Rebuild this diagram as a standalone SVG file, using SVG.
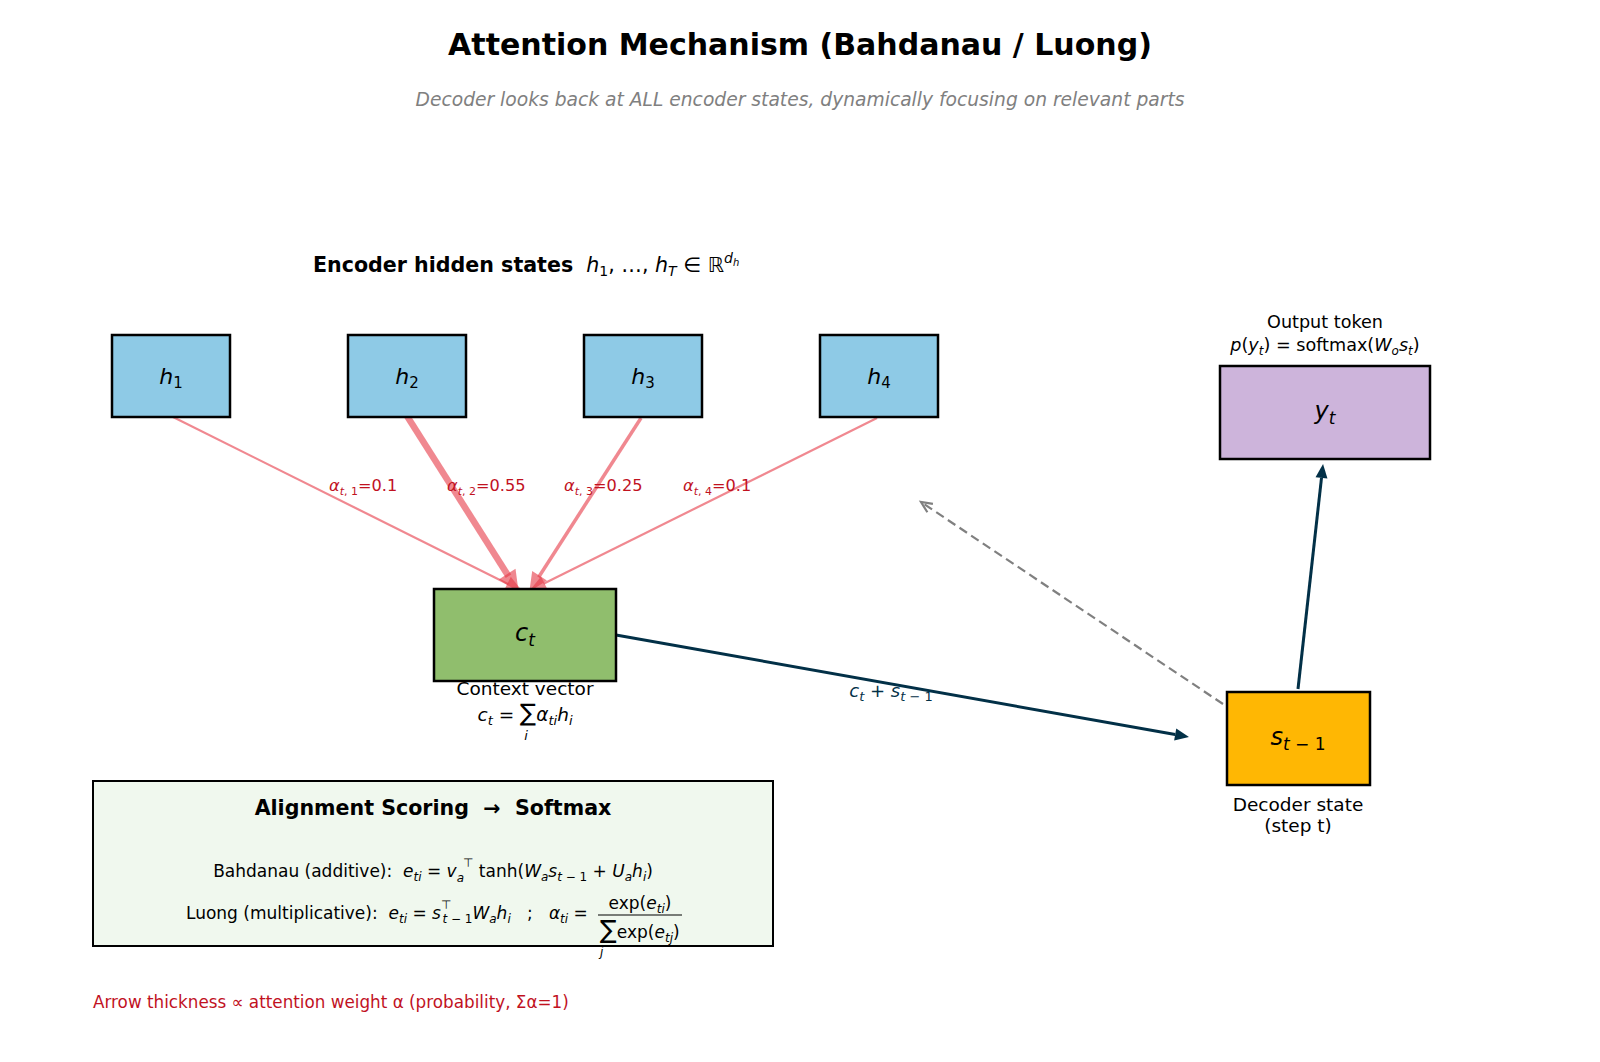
<svg xmlns="http://www.w3.org/2000/svg" width="1600" height="1062" viewBox="0 0 1600 1062" xml:space="preserve">
  <style>
    text { font-family: "DejaVu Sans", "Liberation Sans", sans-serif; fill: #000; white-space: pre; }
    .title { font-size: 30px; font-weight: bold; }
    .subtitle { font-size: 18.7px; font-style: italic; fill: #808080; }
    .bold { font-weight: bold; }
    .m { font-style: italic; }
    .node { stroke: #000; stroke-width: 2.5; }
    .enc { fill: #8ecae6; }
    .ctx { fill: #90be6d; }
    .out { fill: #cdb4db; }
    .dec { fill: #ffb703; }
    .lbl { font-size: 18.5px; }
    .alpha { font-size: 16.2px; fill: #c1121f; }
    .note { font-size: 16.8px; fill: #c1121f; }
    .navyt { fill: #023047; }
    .att { stroke: #e63946; stroke-opacity: 0.6; fill: none; }
    .navy { stroke: #023047; stroke-width: 3; fill: none; }
    .dash { stroke: #808080; stroke-width: 2.2; fill: none; stroke-dasharray: 9 5; }
  </style>
  <defs>
    <marker id="headAttThin" markerUnits="userSpaceOnUse" markerWidth="20" markerHeight="20" refX="0" refY="6" orient="auto" overflow="visible">
      <g opacity="0.6"><path d="M0,0 L13,6 L0,12 Z" fill="#e63946" stroke="#e63946" stroke-width="2.2"/></g>
    </marker>
    <marker id="headAttMid" markerUnits="userSpaceOnUse" markerWidth="20" markerHeight="20" refX="0" refY="6" orient="auto" overflow="visible">
      <g opacity="0.6"><path d="M0,0 L13,6 L0,12 Z" fill="#e63946" stroke="#e63946" stroke-width="3.5"/></g>
    </marker>
    <marker id="headAttThick" markerUnits="userSpaceOnUse" markerWidth="24" markerHeight="24" refX="0" refY="6" orient="auto" overflow="visible">
      <g opacity="0.6"><path d="M0,0 L13,6 L0,12 Z" fill="#e63946" stroke="#e63946" stroke-width="5"/></g>
    </marker>
    <marker id="headNavy" markerUnits="userSpaceOnUse" markerWidth="16" markerHeight="14" refX="0" refY="6" orient="auto" overflow="visible">
      <path d="M0,0 L14,6 L0,12 Z" fill="#023047"/>
    </marker>
    <marker id="headGrey" markerUnits="userSpaceOnUse" markerWidth="14" markerHeight="14" refX="11" refY="5" orient="auto" overflow="visible">
      <path d="M0,0 L11,5 L0,10" fill="none" stroke="#808080" stroke-width="2.2"/>
    </marker>
  </defs>

  <rect width="1600" height="1062" fill="#ffffff"/>

  <!-- headings -->
  <text class="title" x="800" y="55" text-anchor="middle">Attention Mechanism (Bahdanau / Luong)</text>
  <text class="subtitle" x="800" y="106" text-anchor="middle">Decoder looks back at ALL encoder states, dynamically focusing on relevant parts</text>
  <text x="313" y="272" font-size="20.6"><tspan class="bold">Encoder hidden states</tspan><tspan>  </tspan><tspan class="m">h</tspan><tspan font-size="14" dy="4">1</tspan><tspan dy="-4">, …, </tspan><tspan class="m">h</tspan><tspan font-size="14" dy="4" class="m">T</tspan><tspan dy="-4"> ∈ ℝ</tspan><tspan font-size="14" dy="-9" class="m">d</tspan><tspan font-size="10" dy="3" class="m">h</tspan></text>

  <!-- connectors -->
  <g id="connectors">
    <line class="att" stroke-width="2.2" x1="171" y1="416" x2="508.4" y2="584.2" marker-end="url(#headAttThin)"/>
    <line class="att" stroke-width="6.5" x1="407" y1="416" x2="508.5" y2="576.2" marker-end="url(#headAttThick)"/>
    <line class="att" stroke-width="3.5" x1="641" y1="418" x2="538.6" y2="577.2" marker-end="url(#headAttMid)"/>
    <line class="att" stroke-width="2.2" x1="877" y1="418" x2="543.5" y2="583.8" marker-end="url(#headAttThin)"/>

    <line class="navy" x1="616" y1="635" x2="1175.2" y2="734.5" marker-end="url(#headNavy)"/>
    <line class="navy" x1="1298" y1="689" x2="1321.5" y2="477.9" marker-end="url(#headNavy)"/>
    <line class="dash" x1="1223" y1="704" x2="921" y2="502" marker-end="url(#headGrey)"/>

    <text class="alpha" x="329" y="491"><tspan class="m">α</tspan><tspan font-size="11" dy="4"><tspan class="m">t</tspan>, 1</tspan><tspan dy="-4">=0.1</tspan></text>
    <text class="alpha" x="447" y="491"><tspan class="m">α</tspan><tspan font-size="11" dy="4"><tspan class="m">t</tspan>, 2</tspan><tspan dy="-4">=0.55</tspan></text>
    <text class="alpha" x="564" y="491"><tspan class="m">α</tspan><tspan font-size="11" dy="4"><tspan class="m">t</tspan>, 3</tspan><tspan dy="-4">=0.25</tspan></text>
    <text class="alpha" x="683" y="491"><tspan class="m">α</tspan><tspan font-size="11" dy="4"><tspan class="m">t</tspan>, 4</tspan><tspan dy="-4">=0.1</tspan></text>

    <text class="navyt" x="891" y="697" font-size="18" text-anchor="middle"><tspan class="m navyt">c</tspan><tspan font-size="13" dy="4" class="m navyt">t</tspan><tspan dy="-4" class="navyt"> + </tspan><tspan class="m navyt">s</tspan><tspan font-size="13" dy="4" class="navyt"><tspan class="m navyt">t</tspan> − 1</tspan></text>
  </g>

  <!-- encoder states -->
  <g id="h1">
    <rect class="node enc" x="112" y="335" width="118" height="82"/>
    <text x="171" y="384" font-size="22" text-anchor="middle"><tspan class="m">h</tspan><tspan font-size="15" dy="4">1</tspan></text>
  </g>
  <g id="h2">
    <rect class="node enc" x="348" y="335" width="118" height="82"/>
    <text x="407" y="384" font-size="22" text-anchor="middle"><tspan class="m">h</tspan><tspan font-size="15" dy="4">2</tspan></text>
  </g>
  <g id="h3">
    <rect class="node enc" x="584" y="335" width="118" height="82"/>
    <text x="643" y="384" font-size="22" text-anchor="middle"><tspan class="m">h</tspan><tspan font-size="15" dy="4">3</tspan></text>
  </g>
  <g id="h4">
    <rect class="node enc" x="820" y="335" width="118" height="82"/>
    <text x="879" y="384" font-size="22" text-anchor="middle"><tspan class="m">h</tspan><tspan font-size="15" dy="4">4</tspan></text>
  </g>

  <!-- context vector -->
  <g id="context">
    <rect class="node ctx" x="434" y="589" width="182" height="92"/>
    <text x="525" y="641" font-size="24" text-anchor="middle"><tspan class="m">c</tspan><tspan font-size="17" dy="5" class="m">t</tspan></text>
    <text class="lbl" x="525" y="695" text-anchor="middle">Context vector</text>
    <text class="lbl" x="525" y="721" text-anchor="middle"><tspan class="m">c</tspan><tspan font-size="13" dy="4" class="m">t</tspan><tspan dy="-4"> = </tspan><tspan font-size="24">∑</tspan><tspan class="m">α</tspan><tspan font-size="13" dy="4" class="m">ti</tspan><tspan dy="-4" class="m">h</tspan><tspan font-size="13" dy="4" class="m">i</tspan></text>
    <text x="526" y="740" font-size="13" class="m" text-anchor="middle">i</text>
  </g>

  <!-- output token -->
  <g id="output">
    <rect class="node out" x="1220" y="366" width="210" height="93"/>
    <text x="1325" y="419" font-size="24" text-anchor="middle"><tspan class="m">y</tspan><tspan font-size="17" dy="5" class="m">t</tspan></text>
    <text x="1325" y="328" font-size="17.6" text-anchor="middle">Output token</text>
    <text x="1325" y="351" font-size="17.6" text-anchor="middle"><tspan class="m">p</tspan>(<tspan class="m">y</tspan><tspan font-size="12" dy="4" class="m">t</tspan><tspan dy="-4">) = softmax(</tspan><tspan class="m">W</tspan><tspan font-size="12" dy="4" class="m">o</tspan><tspan dy="-4" class="m">s</tspan><tspan font-size="12" dy="4" class="m">t</tspan><tspan dy="-4">)</tspan></text>
  </g>

  <!-- decoder state -->
  <g id="decoder">
    <rect class="node dec" x="1227" y="692" width="143" height="93"/>
    <text x="1298" y="745" font-size="24" text-anchor="middle"><tspan class="m">s</tspan><tspan font-size="17" dy="5"><tspan class="m">t</tspan> − 1</tspan></text>
    <text class="lbl" x="1298" y="811" text-anchor="middle">Decoder state</text>
    <text class="lbl" x="1298" y="832" text-anchor="middle">(step t)</text>
  </g>

  <!-- scoring panel -->
  <g id="scoring">
    <rect x="93" y="781" width="680" height="165" fill="#f0f8ee" stroke="#000" stroke-width="2"/>
    <text x="433" y="815" font-size="20.6" class="bold" text-anchor="middle">Alignment Scoring  →  Softmax</text>
    <text x="433" y="877" font-size="17" text-anchor="middle">Bahdanau (additive):  <tspan class="m">e</tspan><tspan font-size="12" dy="4" class="m">ti</tspan><tspan dy="-4"> = </tspan><tspan class="m">v</tspan><tspan font-size="12" dy="5" class="m">a</tspan><tspan font-size="12" dy="-15" dx="-1">⊤</tspan><tspan dy="10"> tanh(</tspan><tspan class="m">W</tspan><tspan font-size="12" dy="4" class="m">a</tspan><tspan dy="-4" class="m">s</tspan><tspan font-size="12" dy="4"><tspan class="m">t</tspan> − 1</tspan><tspan dy="-4"> + </tspan><tspan class="m">U</tspan><tspan font-size="12" dy="4" class="m">a</tspan><tspan dy="-4" class="m">h</tspan><tspan font-size="12" dy="4" class="m">i</tspan><tspan dy="-4">)</tspan></text>
    <text x="186" y="919" font-size="17">Luong (multiplicative):  <tspan class="m">e</tspan><tspan font-size="12" dy="4" class="m">ti</tspan><tspan dy="-4"> = </tspan><tspan class="m">s</tspan><tspan font-size="12" dy="-10">⊤</tspan><tspan font-size="12" dy="14" dx="-9"><tspan class="m">t</tspan> − 1</tspan><tspan dy="-4" class="m">W</tspan><tspan font-size="12" dy="4" class="m">a</tspan><tspan dy="-4" class="m">h</tspan><tspan font-size="12" dy="4" class="m">i</tspan><tspan dy="-4">   ;   </tspan><tspan class="m">α</tspan><tspan font-size="12" dy="4" class="m">ti</tspan><tspan dy="-4"> =</tspan></text>
    <text x="640" y="909" font-size="17" text-anchor="middle">exp(<tspan class="m">e</tspan><tspan font-size="12" dy="4" class="m">ti</tspan><tspan dy="-4">)</tspan></text>
    <line x1="598" y1="915" x2="682" y2="915" stroke="#000" stroke-width="1.2"/>
    <text x="600" y="938" font-size="17"><tspan font-size="25">∑</tspan>exp(<tspan class="m">e</tspan><tspan font-size="12" dy="4" class="m">tj</tspan><tspan dy="-4">)</tspan></text>
    <text x="600" y="956" font-size="12" class="m">j</text>
  </g>

  <text class="note" x="93" y="1008">Arrow thickness ∝ attention weight α (probability, Σα=1)</text>
</svg>
